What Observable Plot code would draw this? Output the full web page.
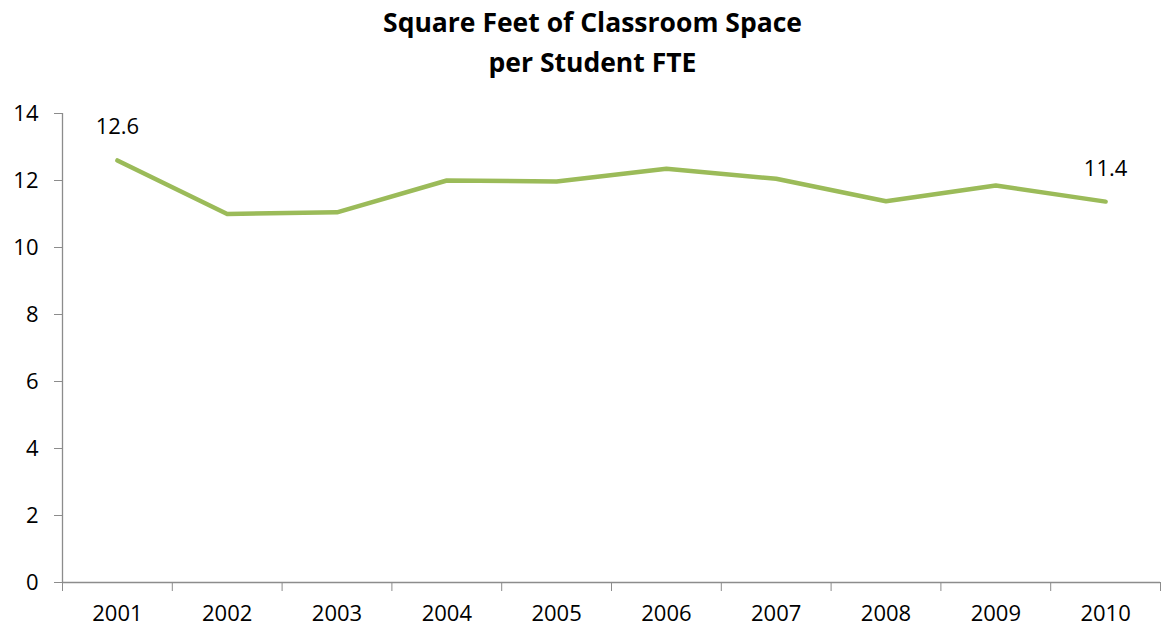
<!DOCTYPE html>
<html>
<head>
<meta charset="utf-8">
<script src="https://cdn.jsdelivr.net/npm/d3@7"></script>
<script src="https://cdn.jsdelivr.net/npm/@observablehq/plot@0.6"></script>
<style>
  body { margin: 0; background: #fff; font-family: "Open Sans", sans-serif; }
  #title { height: 84px; box-sizing: border-box; padding-top: 2px; padding-left: 24px; text-align: center;
           font-weight: bold; font-size: 26.5px; line-height: 40px; color: #000; }
</style>
</head>
<body>
<div id="title">Square Feet of Classroom Space<br>per Student FTE</div>
<div id="chart"></div>
<script>
const years = [2001, 2002, 2003, 2004, 2005, 2006, 2007, 2008, 2009, 2010];
const values = [12.6, 11.0, 11.05, 12.0, 11.97, 12.35, 12.05, 11.38, 11.85, 11.37];
const yTicks = [0, 2, 4, 6, 8, 10, 12, 14];
const labelYears = [2001, 2010];
const labelText = ["12.6", "11.4"];

const data = years.map((y, i) => ({year: y, value: values[i]}));
const labels = labelYears.map((y, i) => ({year: y, value: values[years.indexOf(y)], text: labelText[i]}));
const bounds = years.map(y => y - 0.5).concat([years[years.length - 1] + 0.5]);

const axisColor = "#8c8c8c";
const fs = 22;
const plot = Plot.plot({
  width: 1161,
  height: 546,
  marginLeft: 62,
  marginRight: 1,
  marginTop: 29,
  marginBottom: 48,
  style: {fontFamily: "Open Sans, sans-serif", fontSize: fs + "px", color: "#000", background: "#fff"},
  x: {domain: [years[0] - 0.5, years[years.length - 1] + 0.5]},
  y: {domain: [0, 14]},
  marks: [
    Plot.axisY({ticks: yTicks, tickSize: 8, tickPadding: 16, stroke: axisColor, fill: "#000", label: null, fontSize: fs}),
    Plot.ruleX([years[0] - 0.5], {stroke: axisColor, strokeWidth: 1.3}),
    Plot.axisX({ticks: bounds, tickSize: 9, tickFormat: () => "", stroke: axisColor, label: null}),
    Plot.axisX({ticks: years, tickSize: 0, tickPadding: 23, tickFormat: d => String(d), fill: "#000", label: null, fontSize: fs}),
    Plot.ruleY([0], {stroke: axisColor, strokeWidth: 1.3}),
    Plot.line(data, {x: "year", y: "value", stroke: "#9BBB59", strokeWidth: 4.5, strokeLinejoin: "round"}),
    Plot.text(labels, {x: "year", y: "value", text: "text", dy: -33, fontSize: fs, fill: "#000"})
  ]
});
document.getElementById("chart").appendChild(plot);
</script>
</body>
</html>
